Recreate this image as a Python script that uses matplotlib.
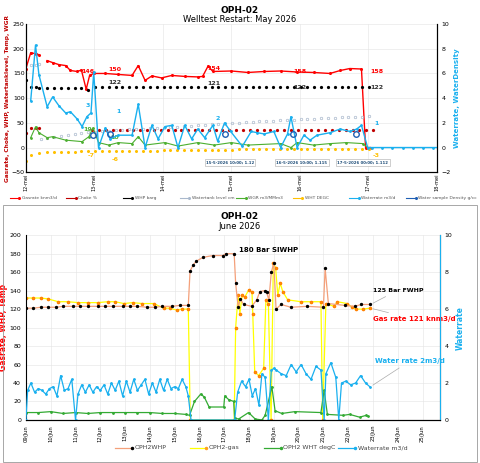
import matplotlib
matplotlib.use("Agg")
import matplotlib.pyplot as plt
from matplotlib.patches import Rectangle

# ---------- TOP (May) data, x in days since 12-mei ----------
top_ticks = ["12-mei","13-mei","14-mei","15-mei","16-mei","17-mei","18-mei"]
gas_x = [0,0.07,0.14,0.19, 0.31,0.39,0.48,0.58,0.65,0.75,0.81,0.88,0.93,0.99,1.16,1.35,1.55,1.64,1.74,1.84,1.98,2.13,2.32,2.51,2.58,2.66,2.73,3.0,3.24,3.48,3.72,3.96,4.2,4.44,4.59,4.73,4.9,4.96,5.03]
gas_y = [160,192,190,188, 176,172,168,166,156,154,157,118,146,150,150,148,146,166,136,145,141,146,144,143,144,165,154,155,152,154,155,153,152,150,156,160,159,0,0]
gas_gap = 4
whp_x = [0,0.07,0.14,0.19]+[0.31+0.1*i for i in range(48)]
whp_y = [137,122,122,121]+[121]*6+[116]+[122]*41
choke_x = [0,0.07,0.14,0.19]+[0.97+0.1*i for i in range(42)]
choke_y = [30,40,40,40]+[35]*42
lvl_x = [0.07,0.14,0.19,0.22]+[0.31+0.1*i for i in range(48)]
lvl_y = [167,168,170,18]+[20,22,24,26,28,30,31,32,33,34,35,36,37,38,38,39,40,40,41,42,43,44,45,46,47,48,48,49,50,51,52,53,53,54,55,56,56,57,58,58,59,60,60,61,61,62,62,63]
wgr_x = [0.07,0.14,0.19,0.31,0.39,0.58,0.82,0.92,0.98,1.06,1.21,1.35,1.55,1.64,1.74,2.03,2.22,2.51,2.75,3.0,3.24,3.72,3.87,3.96,4.2,4.44,4.68,4.92,4.99]
wgr_y = [20,42,30,20,22,15,12,22,40,10,5,10,8,22,5,10,3,10,5,10,5,8,0,10,5,8,10,8,0]
tmp_x = [0,0.07,0.19]+[0.31+0.1*i for i in range(48)]
tmp_y = [-28,-15,-12]+[-10,-10,-9,-9,-9,-8,-8,-8,-8,-7,-7,-7,-7,-6,-6,-6,-6,-5,-5,-5,-5,-5,-4,-4,-4,-4,-4,-4,-3,-3,-3,-3,-3,-3,-3,-3,-3,-3,-3,-3,-3,-3,-3,-3,-3,-3,-3,-3]
wr_x = [0.07,0.14,0.19, 0.31,0.39,0.48,0.58,0.65,0.75,0.82,0.89,0.95,0.99,1.06,1.16,1.23,1.35,1.55,1.64,1.74,1.84,1.93,2.03,2.13,2.22,2.32,2.42,2.51,2.61,2.73,2.80,2.90,2.99,3.16,3.29,3.38,3.48,3.62,3.72,3.82,3.87,3.96,4.06,4.15,4.25,4.44,4.59,4.73,4.83,4.90,4.99,5.05,5.2,5.35,5.5,5.65,5.8,5.95,6.1,6.2]
wr_y = [3.8,8.3,5.9, 3.3,4.1,3.4,2.8,2.9,2.3,1.7,2.5,2.8,6.1,0,1.6,0.7,1.0,1.0,3.5,0,1.8,0.7,1.7,1.8,0,1.8,0.7,1.5,0.8,1.8,0.5,2.0,1.3,0.1,1.3,1.2,1.1,1.3,0,1.1,2.5,0,1.0,0.6,1.0,1.2,1.5,1.3,1.5,1.8,0,0,0,0,0,0,0,0,0,0]
dens_x = [0.98,1.23,2.9,3.9,4.82]
dens_y = [1.0,1.1,1.1,1.1,1.1]

# ---------- BOTTOM (June) data, x = day of June ----------
bot_ticks = ["%02d/Jun" % d for d in range(9, 26)]
bw_x = [9,9.3,9.6,9.9,10.2,10.5,10.9,11.2,11.5,11.9,12.2,12.5,12.9,13.2,13.5,13.9,14.2,14.5,14.9,15.2,15.55,15.62,15.75,15.88,16.14,16.54,16.94,17.07,17.4,17.46,17.56,17.65,17.78,18.11,18.31,18.44,18.64,18.71,18.8,18.9,19.0,19.09,19.29,19.69,20.35,21.0,21.07,21.2,21.86,22.26,22.53,22.87]
bw_y = [121,121,122,122,122,123,123,123,123,123,123,123,123,123,123,122,122,123,123,124,124,161,168,172,176,178,178,180,180,148,122,131,125,123,130,139,140,138,130,160,170,120,125,122,123,122,164,126,124,123,125,125]
bg_x = [9,9.3,9.6,9.9,10.3,10.7,11.1,11.5,11.9,12.3,12.6,12.95,13.3,13.7,14.16,14.55,14.8,15.08,15.3,15.55,15.63,17.4,17.46,17.56,17.63,17.72,17.83,17.99,18.12,18.15,18.23,18.39,18.59,18.68,18.78,18.89,18.98,19.07,19.16,19.26,19.36,19.56,20.1,20.5,20.9,20.97,21.1,21.43,21.56,21.96,22.16,22.3,22.6,22.87]
bg_y = [132,132,132,131,128,128,127,127,127,128,128,126,127,126,126,121,121,119,120,120,0,0,100,135,115,135,133,141,138,115,52,48,56,130,126,0,170,165,135,148,139,130,128,128,128,0,126,123,128,126,122,120,120,121]
bt_x = [9,9.5,10,10.5,11,11.5,12,12.5,13,13.5,14,14.5,15,15.45,15.6,15.8,16.05,16.19,16.39,16.98,17.02,17.18,17.38,17.42,17.58,17.98,18.25,18.52,18.65,18.92,19.05,19.32,19.85,20.9,21.03,21.16,21.8,22.06,22.46,22.73,22.8]
bt_y = [8,8,9,7,8,7,8,8,8,8,8,7,7,6,5,20,28,25,14,14,26,22,20,2,1,8,1,0,5,36,10,7,9,8,32,6,5,6,3,5,4]
bwr_x = [9,9.07,9.2,9.35,9.5,9.65,9.8,9.95,10.1,10.25,10.4,10.55,10.7,10.85,11.0,11.1,11.25,11.4,11.55,11.7,11.85,12.0,12.15,12.3,12.45,12.6,12.75,12.9,13.05,13.2,13.35,13.5,13.65,13.8,13.95,14.1,14.25,14.4,14.55,14.7,14.85,15.0,15.15,15.3,15.45,15.55,15.66,17.42,17.54,17.7,17.86,18.0,18.13,18.26,18.4,18.52,18.65,18.78,18.9,19.01,19.1,19.3,19.5,19.7,19.9,20.1,20.3,20.5,20.7,20.9,21.03,21.1,21.3,21.5,21.62,21.73,21.9,22.1,22.3,22.5,22.7,22.87]
bwr_y = [0,1.6,2.0,1.5,1.7,1.6,1.4,1.7,1.8,1.3,2.4,1.6,1.7,2.2,0,1.4,1.9,1.5,1.9,1.5,1.8,1.6,1.9,1.4,2.0,1.6,2.1,1.3,2.1,1.5,2.2,1.6,1.9,2.2,1.4,2.0,1.5,2.2,1.6,2.2,1.7,1.8,1.7,2.2,1.8,1.3,0,0,1.5,2.1,1.8,2.2,1.3,1.7,0.8,2.5,2.3,0,2.7,2.8,2.7,2.5,2.4,3.0,2.6,3.0,2.5,2.2,2.9,2.7,0,2.5,3.1,2.3,0,2.0,2.1,1.9,2.0,2.4,2.0,1.8]

fig = plt.figure(figsize=(4.8, 4.63), dpi=100)
fs = 4.5

# ---------- top ----------
ax = fig.add_axes([0.054, 0.628, 0.856, 0.32])
ax2 = ax.twinx()
ax.set_xlim(0, 6); ax.set_ylim(-50, 250); ax2.set_ylim(-2, 10)
ax.grid(True, color="#e4e4e4", lw=0.4)
ax.plot(gas_x[:gas_gap], gas_y[:gas_gap], "-o", color="red", ms=1.2, lw=1)
ax.plot(gas_x[gas_gap:], gas_y[gas_gap:], "-o", color="red", ms=1.2, lw=1)
ax.plot(whp_x, whp_y, "o", color="black", ms=1.3)
ax.plot(choke_x, choke_y, "o", color="#c00000", ms=1.3)
ax.plot(lvl_x, lvl_y, "o", mfc="none", mec="#a9b8cc", ms=1.8, mew=0.5)
ax.plot(wgr_x, wgr_y, "-o", color="#4caf30", ms=1, lw=0.8)
ax.plot(tmp_x, tmp_y, "o", color="#ffc000", ms=1.2)
ax2.plot(wr_x, wr_y, "-o", color="#1ab0ef", ms=1, lw=1)
ax2.plot(dens_x, dens_y, "o", mfc="none", mec="#1f5fb4", ms=4, mew=1)
for (x, y, t, c) in [(0.9,150,"146","red"),(1.3,155,"150","red"),(2.75,158,"154","red"),(4.0,150,"158","red"),(5.12,150,"158","red"),
                     (1.3,128,"122","#333"),(2.75,127,"121","#333"),(4.0,118,"122","#333"),(5.12,118,"122","#333"),
                     (0.9,33,"19","#4caf30"),(1.3,18,"10","#4caf30"),(0.95,-20,"-7","#ffc000"),(1.3,-27,"-6","#ffc000"),(5.12,-20,"-3","#ffc000")]:
    ax.text(x, y, t, color=c, fontsize=fs, fontweight="bold", ha="center")
for (x, y, t) in [(0.9,3.3,"3"),(1.35,2.8,"1"),(2.8,2.2,"2"),(5.12,1.8,"1")]:
    ax2.text(x, y, t, color="#1ab0ef", fontsize=fs, fontweight="bold", ha="center")
for (x, t) in [(2.98,"15-5-2026 10:00; 1.12"),(4.03,"16-5-2026 10:00; 1.115"),(4.92,"17-5-2026 00:00; 1.112")]:
    ax2.text(x, -1.3, t, fontsize=2.8, color="#1f4e79", fontweight="bold", ha="center",
             bbox=dict(boxstyle="square,pad=0.3", fc="white", ec="#aaa", lw=0.4))
ax.set_xticks(range(7)); ax.set_xticklabels(top_ticks, rotation=90, fontsize=3.6)
ax.tick_params(axis="y", labelsize=fs, length=0, pad=1); ax2.tick_params(axis="y", labelsize=fs, length=0)
ax.tick_params(axis="x", length=0, pad=1)
for s in ["top"]: ax.spines[s].set_visible(False); ax2.spines[s].set_visible(False)
ax.set_ylabel("Gasrate, Choke, WHP, Watertanklevel, Temp, WGR", fontsize=4.2, color="#c00000", fontweight="bold", labelpad=1)
ax2.set_ylabel("Waterrate, WaterDensity", fontsize=5, color="#1ab0ef", fontweight="bold", labelpad=2)
fig.text(0.5, 0.972, "OPH-02", ha="center", fontsize=6.5, fontweight="bold")
fig.text(0.5, 0.952, "Welltest Restart: May 2026", ha="center", fontsize=6)
labels = ["Gasrate knm3/d","Choke %","WHP barg","Watertank level cm","WGR m3/MMm3","WHT DEGC","Waterrate m3/d","Water sample Density g/cc"]
cols = ["red","#c00000","black","#a9b8cc","#4caf30","#ffc000","#1ab0ef","#1f5fb4"]
for i, (l, c) in enumerate(zip(labels, cols)):
    x0 = 0.02 + i * 0.118
    fig.lines.append(plt.Line2D([x0, x0 + 0.02], [0.572, 0.572], color=c, lw=0.8, transform=fig.transFigure, marker="o", ms=1.2, markevery=[1]))
    fig.text(x0 + 0.025, 0.572, l, fontsize=3.2, va="center", color="#555")

# ---------- bottom ----------
fig.patches.append(Rectangle((0.006, 0.003), 0.988, 0.555, transform=fig.transFigure, fill=False, ec="#999", lw=0.6))
bx = fig.add_axes([0.054, 0.093, 0.8625, 0.399])
bx2 = bx.twinx()
bx.set_xlim(9, 25.7); bx.set_ylim(0, 200); bx2.set_ylim(0, 10)
bx.grid(True, color="#e4e4e4", lw=0.4)
bx.plot(bg_x, bg_y, "-o", color="#ffff00", mfc="#ffa020", mec="#ff8000", ms=1.6, lw=0.9)
bx.plot(bw_x, bw_y, "-o", color="#f4a07a", mfc="black", mec="black", ms=1.4, lw=0.9)
bx.plot(bt_x, bt_y, "-o", color="#33aa33", ms=1, lw=0.9)
bx2.plot(bwr_x, bwr_y, "-o", color="#1ab0ef", ms=1, lw=0.9)
bx.set_xticks(range(9, 26)); bx.set_xticklabels(bot_ticks, rotation=90, fontsize=3.8)
bx.set_yticks(range(0, 201, 20))
bx.tick_params(axis="y", labelsize=fs, length=0); bx2.tick_params(axis="y", labelsize=fs, length=0)
bx.tick_params(axis="x", length=0)
bx.spines["top"].set_visible(False); bx2.spines["top"].set_visible(False)
bx2.spines["right"].set_color("#1ab0ef"); bx2.spines["left"].set_visible(False)
bx.set_ylabel("Gasrate, WHP, Temp", fontsize=5.5, color="red", fontweight="bold", labelpad=1)
bx2.set_ylabel("Waterrate", fontsize=5.5, color="#1ab0ef", fontweight="bold", labelpad=2)
bx.annotate("180 Bar SIWHP", xy=(17.4, 180), xytext=(17.6, 182), fontsize=5, fontweight="bold")
bx.annotate("125 Bar FWHP", xy=(22.9, 125), xytext=(23.0, 139), fontsize=4.5, fontweight="bold",
            arrowprops=dict(arrowstyle="-", color="#aaa", lw=0.5))
bx.annotate("Gas rate 121 knm3/d", xy=(22.9, 121), xytext=(23.0, 107), fontsize=5, color="red", fontweight="bold",
            arrowprops=dict(arrowstyle="-", color="#aaa", lw=0.5))
bx2.annotate("Water rate 2m3/d", xy=(22.9, 1.8), xytext=(23.1, 3.1), fontsize=5, color="#1ab0ef", fontweight="bold",
             arrowprops=dict(arrowstyle="-", color="#aaa", lw=0.5))
fig.text(0.5, 0.528, "OPH-02", ha="center", fontsize=6.5, fontweight="bold")
fig.text(0.5, 0.505, "June 2026", ha="center", fontsize=6)
bl = [("OPH2WHP", "#f4a07a", "black"), ("OPH2-gas", "#ffff00", "#ffa020"), ("OPH2 WHT degC", "#33aa33", "#33aa33"), ("Waterrate m3/d", "#1ab0ef", "#1ab0ef")]
for i, (l, c, m) in enumerate(bl):
    x0 = 0.24 + i * 0.155
    fig.lines.append(plt.Line2D([x0, x0 + 0.035], [0.033, 0.033], color=c, lw=0.9, transform=fig.transFigure, marker="o", mfc=m, mec=m, ms=1.5, markevery=[1]))
    fig.text(x0 + 0.04, 0.033, l, fontsize=4.5, va="center", color="#444")

fig.savefig("out.png", dpi=100)
